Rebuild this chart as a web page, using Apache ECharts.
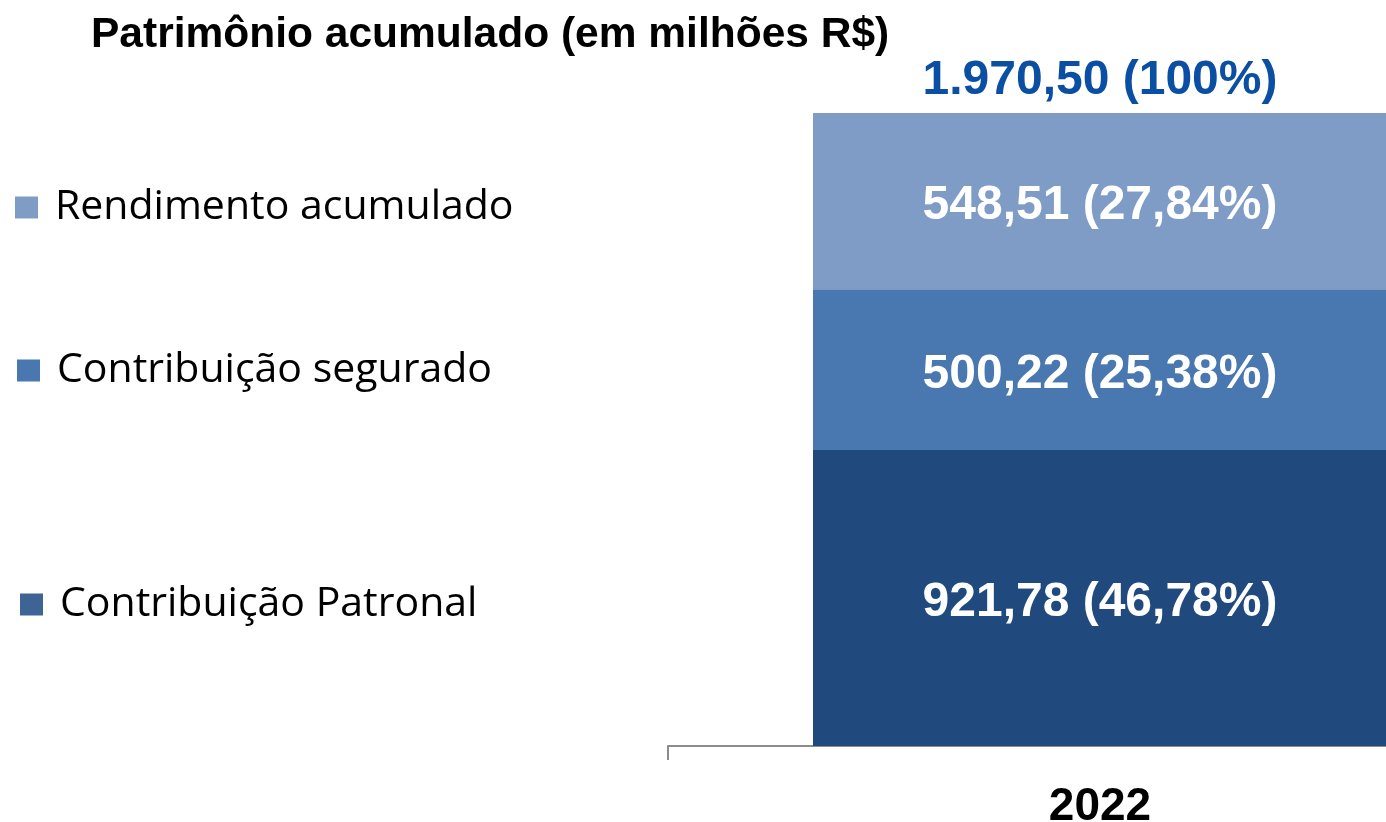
<!DOCTYPE html>
<html>
<head>
<meta charset="utf-8">
<script src="https://cdn.jsdelivr.net/npm/echarts@6/dist/echarts.min.js"></script>
<style>
html, body { margin: 0; padding: 0; background: #fff; }
#main { width: 1386px; height: 822px; }
</style>
</head>
<body>
<div id="main"></div>
<script>
// dados do gráfico
var categorias = ['2022'];
var nomesSeries = ['Contribuição Patronal', 'Contribuição segurado', 'Rendimento acumulado'];
var patronal = [921.78];
var segurado = [500.22];
var rendimento = [548.51];
var percentuais = ['46,78', '25,38', '27,84'];
var total = [1970.50];
var cores = ['#204a7e', '#4977b0', '#7f9cc6'];
var coresLegenda = ['#3d6494', '#4977b0', '#7f9cc6'];

function fmt(v) {
	return v.toLocaleString('pt-BR', { minimumFractionDigits: 2, maximumFractionDigits: 2 });
}

var myChart = echarts.init(document.getElementById('main'));

var fonteRotulo = {
	show : true,
	position : 'inside',
	offset : [0, 5],
	color : '#fff',
	fontFamily : 'Liberation Sans, Arial, sans-serif',
	fontWeight : 'bold',
	fontSize : 48
};

function legenda(i, top, left) {
	return {
		top : top,
		left : left,
		orient : 'vertical',
		icon : 'rect',
		itemWidth : 23,
		itemHeight : 22,
		itemGap : 0,
		selectedMode : false,
		textStyle : {
			fontFamily : 'Open Sans, Noto Sans, sans-serif',
			fontSize : 41,
			color : '#000',
			padding : [0, 0, 0, 12]
		},
		data : [ { name : nomesSeries[i], itemStyle : { color : coresLegenda[i] } } ]
	};
}

var dados = [patronal, segurado, rendimento];
var series = [];
for (var i = 0; i < 3; i++) {
	(function (i) {
		series.push({
			name : nomesSeries[i],
			type : 'bar',
			stack : 'total',
			barWidth : 574,
			data : dados[i],
			itemStyle : { color : cores[i] },
			label : Object.assign({}, fonteRotulo, {
				formatter : function (p) { return fmt(p.value) + ' (' + percentuais[i] + '%)'; }
			})
		});
	})(i);
}
// rótulo do total no topo da pilha (barra transparente sobreposta)
series.push({
	name : 'Total',
	type : 'bar',
	barWidth : 574,
	barGap : '-100%',
	z : 1,
	data : total,
	itemStyle : { color : 'rgba(0,0,0,0)' },
	label : {
		show : true,
		position : 'top',
		distance : 8,
		color : '#0a4fa3',
		fontFamily : 'Liberation Sans, Arial, sans-serif',
		fontWeight : 'bold',
		fontSize : 48,
		formatter : function (p) { return fmt(p.value) + ' (100%)'; }
	}
});

var option = {
	animation : false,
	backgroundColor : '#fff',
	title : {
		text : 'Patrimônio acumulado (em milhões R$)',
		left : 86,
		top : 9,
		textStyle : {
			fontFamily : 'Liberation Sans, Arial, sans-serif',
			fontWeight : 'bold',
			fontSize : 42.5,
			color : '#000'
		}
	},
	legend : [
		legenda(2, 182, 10),
		legenda(1, 345, 12),
		legenda(0, 579, 15)
	],
	grid : {
		left : 668,
		right : -146,
		top : 113,
		bottom : 76,
		outerBoundsMode : 'none',
		containLabel : false
	},
	xAxis : [ {
		type : 'category',
		data : categorias,
		axisLine : { show : true, lineStyle : { color : '#8c8c8c', width : 2 } },
		axisTick : { show : true, length : 14, lineStyle : { color : '#8c8c8c', width : 2 } },
		axisLabel : {
			margin : 38,
			color : '#000',
			fontFamily : 'Liberation Sans, Arial, sans-serif',
			fontWeight : 'bold',
			fontSize : 46
		}
	} ],
	yAxis : [ {
		type : 'value',
		min : 0,
		max : total[0],
		show : false,
		splitLine : { show : false }
	} ],
	series : series
};

myChart.setOption(option);
</script>
</body>
</html>
